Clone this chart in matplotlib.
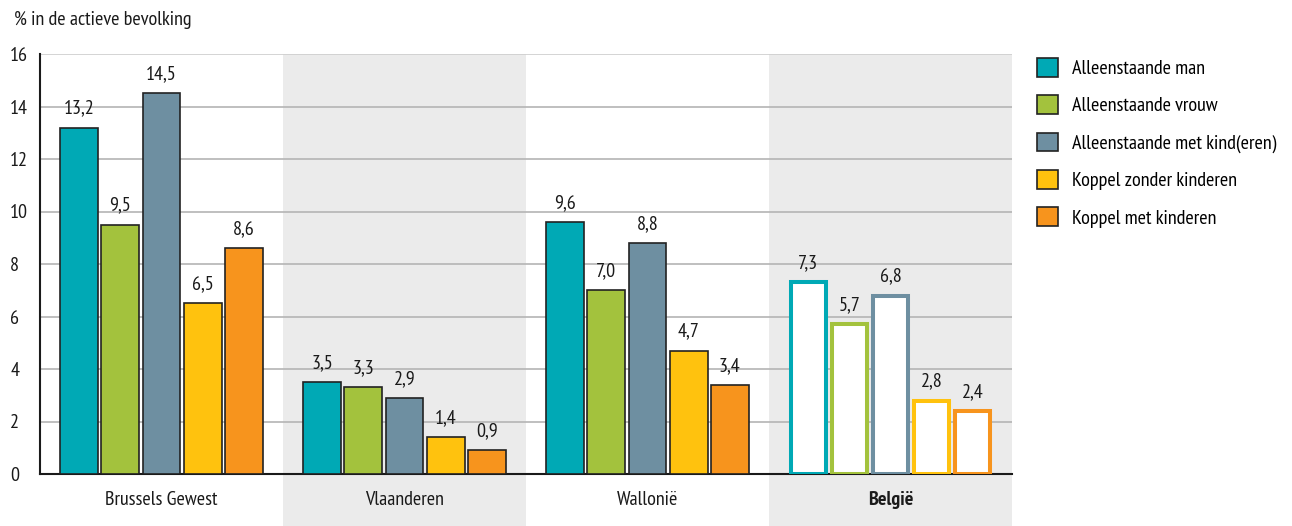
import numpy as np
import matplotlib
matplotlib.use('Agg')
import matplotlib.pyplot as plt
from matplotlib.patches import Rectangle
import matplotlib.transforms as mtransforms

plt.rcParams['font.family'] = ['PT Sans Narrow', 'DejaVu Sans']

regions = ['Brussels Gewest', 'Vlaanderen', 'Wallonië', 'België']
series = ['Alleenstaande man', 'Alleenstaande vrouw', 'Alleenstaande met kind(eren)',
          'Koppel zonder kinderen', 'Koppel met kinderen']
values = [
    [13.2, 3.5, 9.6, 7.3],
    [9.5, 3.3, 7.0, 5.7],
    [14.5, 2.9, 8.8, 6.8],
    [6.5, 1.4, 4.7, 2.8],
    [8.6, 0.9, 3.4, 2.4],
]
colors = ['#00A9B5', '#A3C23D', '#6E8FA1', '#FFC20E', '#F7941D']
yticks = [0, 2, 4, 6, 8, 10, 12, 14, 16]

FS = 14.5
fig = plt.figure(figsize=(12.92, 5.26), dpi=100)
ax = fig.add_axes([40 / 1292, 52 / 526, (1012 - 40) / 1292, (474 - 54) / 526])

x = np.arange(len(regions))
step = 0.1695
width = 0.156

# grijze banden achter Vlaanderen en België, tot onderaan
trans = mtransforms.blended_transform_factory(ax.transData, ax.transAxes)
for i in [1, 3]:
    ax.add_patch(Rectangle((i - 0.5, -0.2), 1, 1.2, transform=trans,
                           facecolor='#EBEBEB', edgecolor='none', zorder=0, clip_on=False))

for y in yticks[1:]:
    ax.axhline(y, color='#B4B4B4' if y < 16 else '#CDCDCD', lw=1.2, zorder=1)

for k in range(len(series)):
    pos = x + (k - 2) * step
    vals = np.array(values[k])
    ax.bar(pos[:3], vals[:3], width, color=colors[k], edgecolor='#222222',
           linewidth=1.2, zorder=3, label=series[k])
    ax.bar(pos[3], vals[3], width - 0.012, color='white', edgecolor=colors[k],
           linewidth=2.9, zorder=3)
    for p, v in zip(pos, vals):
        ax.text(p, v + 0.38, f'{v:.1f}'.replace('.', ','), ha='center', va='bottom',
                fontsize=FS, color='#1a1a1a', zorder=4)

ax.set_xlim(-0.5, 3.5)
ax.set_ylim(0, 16)
ax.set_yticks(yticks)
ax.set_yticklabels([str(t) for t in yticks], fontsize=FS)
ax.set_xticks(x)
ax.set_xticklabels(regions, fontsize=FS)
ax.get_xticklabels()[3].set_fontweight('bold')
ax.tick_params(axis='both', length=0, colors='#1a1a1a')
ax.tick_params(axis='x', pad=12)
for lbl in ax.get_yticklabels():
    lbl.set_horizontalalignment('left')
ax.tick_params(axis='y', pad=21.5)

for s in ['top', 'right']:
    ax.spines[s].set_visible(False)
for s in ['left', 'bottom']:
    ax.spines[s].set_color('#1a1a1a')
    ax.spines[s].set_linewidth(1.5)
ax.patch.set_alpha(0)

fig.text(14 / 1292, 1 - 20 / 526, '% in de actieve bevolking', fontsize=FS,
         va='center', ha='left', color='#1a1a1a')

leg = ax.legend(loc='upper left', bbox_to_anchor=(1.017, 1.01), frameon=False,
                fontsize=FS, handlelength=1.05, handleheight=1.05,
                labelspacing=0.85, handletextpad=0.7, borderaxespad=0)

fig.savefig('out.png', dpi=100)
